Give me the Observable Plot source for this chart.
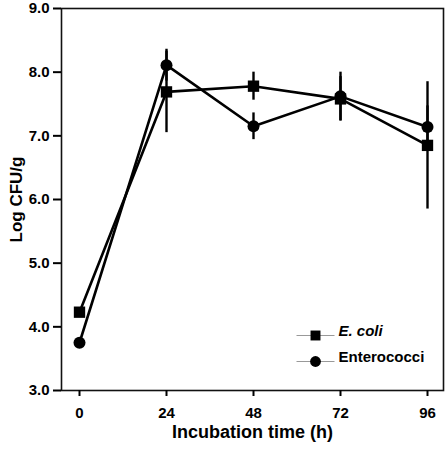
<!DOCTYPE html>
<html>
<head>
<meta charset="utf-8">
<script src="https://cdn.jsdelivr.net/npm/d3@7"></script>
<script src="https://cdn.jsdelivr.net/npm/@observablehq/plot@0.6"></script>
<style>
  html, body { margin: 0; padding: 0; background: #fff; }
</style>
</head>
<body>
<div id="chart"></div>
<script>
// Data
const hours = [0, 24, 48, 72, 96];
const ecoliMean = [4.23, 7.69, 7.78, 7.58, 6.85];
const ecoliErr  = [0, 0.64, 0.22, 0.35, 1.0];
const enteroMean = [3.75, 8.11, 7.15, 7.62, 7.14];
const enteroErr  = [0, 0.25, 0.21, 0.38, 0.33];
const yTicks = [3, 4, 5, 6, 7, 8, 9];
const seriesNames = ["E. coli", "Enterococci"];

const ecoli = hours.map((h, i) => ({h, v: ecoliMean[i], e: ecoliErr[i], s: seriesNames[0]}));
const entero = hours.map((h, i) => ({h, v: enteroMean[i], e: enteroErr[i], s: seriesNames[1]}));
const all = ecoli.concat(entero);

const lineSymbol = {draw(ctx) { ctx.moveTo(-19, 0); ctx.lineTo(19, 0); }};

const chart = Plot.plot({
  width: 448,
  height: 454,
  marginLeft: 61,
  marginRight: 5,
  marginTop: 8,
  marginBottom: 64,
  style: {
    fontSize: "15px", fontWeight: "bold", background: "white",
    fontFamily: "'Liberation Sans', Arial, sans-serif"
  },
  x: {domain: [0, 96], range: [79, 427]},
  y: {domain: [3, 9]},
  marks: [
    Plot.frame({stroke: "#111", strokeWidth: 1.6}),
    Plot.ruleX([0], {x: () => null, frameAnchor: "left", stroke: "#111", strokeWidth: 2.5}),
    Plot.axisY(yTicks, {tickSize: 8, tickPadding: 4, strokeWidth: 2, tickFormat: d => d.toFixed(1), fontSize: 15, label: null}),
    Plot.axisX(hours, {tickSize: 6, tickPadding: 11, strokeWidth: 2, fontSize: 15, label: null}),
    Plot.text(["Log CFU/g"], {frameAnchor: "left", dx: -45, rotate: -90, fontSize: 17, fontWeight: "bold", textAnchor: "middle"}),
    Plot.text(["Incubation time (h)"], {frameAnchor: "bottom", dy: 47, fontSize: 18, fontWeight: "bold"}),
    Plot.line(ecoli, {x: "h", y: "v", stroke: "#000", strokeWidth: 2.6}),
    Plot.line(entero, {x: "h", y: "v", stroke: "#000", strokeWidth: 2.6}),
    Plot.ruleX(all.filter(d => d.e > 0), {x: "h", y1: d => d.v - d.e, y2: d => d.v + d.e, stroke: "#000", strokeWidth: 2.4}),
    Plot.dot(ecoli, {x: "h", y: "v", symbol: "square", r: 6.4, fill: "#000"}),
    Plot.dot(entero, {x: "h", y: "v", symbol: "circle", r: 6, fill: "#000"}),
    // legend
    Plot.dot([0], {frameAnchor: "bottom-right", dx: -128, dy: -55, symbol: lineSymbol, stroke: "#999", strokeWidth: 1, r: 1}),
    Plot.dot([0], {frameAnchor: "bottom-right", dx: -128, dy: -29, symbol: lineSymbol, stroke: "#999", strokeWidth: 1, r: 1}),
    Plot.dot([0], {frameAnchor: "bottom-right", dx: -128, dy: -55, symbol: "square", r: 5.6, fill: "#000"}),
    Plot.dot([0], {frameAnchor: "bottom-right", dx: -128, dy: -29, symbol: "circle", r: 5.4, fill: "#000"}),
    Plot.text([seriesNames[0]], {frameAnchor: "bottom-right", dx: -105, dy: -55, textAnchor: "start", fontSize: 15, fontWeight: "bold", fontStyle: "italic"}),
    Plot.text([seriesNames[1]], {frameAnchor: "bottom-right", dx: -105, dy: -29, textAnchor: "start", fontSize: 15, fontWeight: "bold"})
  ]
});
document.getElementById("chart").appendChild(chart);
</script>
</body>
</html>
